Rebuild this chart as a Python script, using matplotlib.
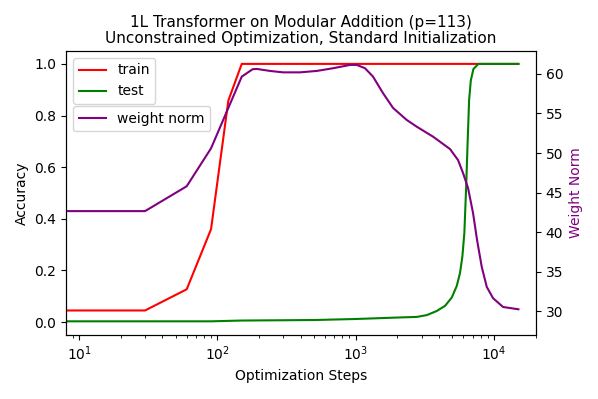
import numpy as np
import matplotlib
matplotlib.use("Agg")
import matplotlib.pyplot as plt

# --- data ---
train_steps = [0, 30, 60, 90, 120, 150, 15000]
train_acc = [0.045, 0.045, 0.127, 0.36, 0.858, 1.0, 1.0]

test_steps = [0, 90, 150, 500, 1000, 2089, 2762, 3263, 3855, 4425, 4946, 5375,
              5680, 5905, 6100, 6275, 6450, 6600, 6790, 7090, 7700, 15000]
test_acc = [0.003, 0.003, 0.006, 0.008, 0.012, 0.018, 0.020, 0.027, 0.043, 0.063,
            0.095, 0.140, 0.191, 0.255, 0.345, 0.512, 0.704, 0.858, 0.935, 0.98,
            1.0, 1.0]

norm_steps = [0, 30, 60, 90, 120, 150, 180, 193, 240, 298, 396, 523, 686, 910,
              1018, 1167, 1334, 1577, 1862, 2338, 2762, 3623, 4808, 5493, 5970,
              6490, 7052, 7540, 8150, 8860, 9840, 11620, 15000]
weight_norm = [42.66, 42.66, 45.8, 50.6, 55.7, 59.66, 60.6, 60.63, 60.38, 60.2,
               60.2, 60.38, 60.72, 61.14, 61.14, 60.72, 59.66, 57.56, 55.7, 54.18,
               53.33, 52.07, 50.5, 49.11, 47.47, 45.57, 42.4, 38.99, 35.6, 33.08,
               31.65, 30.54, 30.25]

fig, ax = plt.subplots(figsize=(5.98, 3.99), dpi=100)
fig.subplots_adjust(left=0.1104, right=0.8963, top=0.8722, bottom=0.1604)

ax.plot(train_steps, train_acc, color="red", label="train")
ax.plot(test_steps, test_acc, color="green", label="test")
ax.set_xscale("log")
ax.set_xlim(8.05, 20100)
ax.set_ylim(-0.05, 1.05)
ax.set_xlabel("Optimization Steps")
ax.set_ylabel("Accuracy")
ax.set_title("1L Transformer on Modular Addition (p=113)\n"
             "Unconstrained Optimization, Standard Initialization",
             fontsize=11, linespacing=1.05)
ax.legend(loc="upper left")

ax2 = ax.twinx()
ax2.plot(norm_steps, weight_norm, color="purple", label="weight norm")
ax2.set_ylim(27.0, 62.9)
ax2.set_ylabel("Weight Norm", color="purple")
ax2.legend(loc="upper left", bbox_to_anchor=(0, 0.83))

fig.savefig("out.png", dpi=100)
